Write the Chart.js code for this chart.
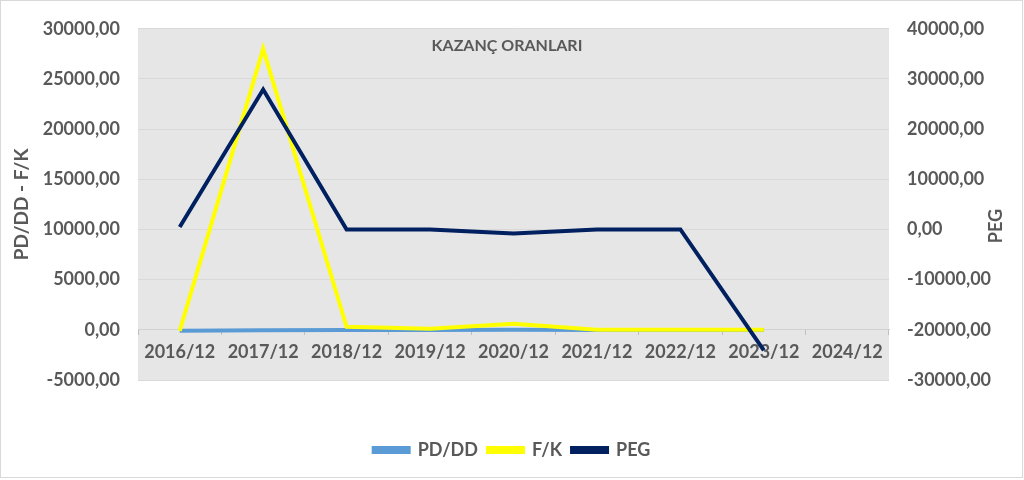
<!DOCTYPE html>
<html>
<head>
<meta charset="utf-8">
<script src="https://cdn.jsdelivr.net/npm/chart.js@4.4.0/dist/chart.umd.min.js"></script>
<style>
  body { margin: 0; background: #fff; }
</style>
</head>
<body>
<canvas id="plot" width="1024" height="480"></canvas>
<script>
// values
var years = ['2016/12', '2017/12', '2018/12', '2019/12', '2020/12', '2021/12', '2022/12', '2023/12', '2024/12'];
var pdDD = [-80, -30, -10, -10, 0, -10, -10, -10, null];
var fk = [-100, 28000, 300, 100, 600, 0, 0, 0, null];
var peg = [500, 27900, 0, 0, -800, 0, 0, -24100, null];

var grey = '#595959';
var tickFont = { family: 'Lato', size: 18, weight: 'bold' };

function fmt(v) {
  return Number(v).toFixed(2).replace('.', ',');
}

var extras = {
  id: 'extras',
  beforeDraw: function (chart) {
    var ctx = chart.ctx, a = chart.chartArea;
    ctx.save();
    ctx.fillStyle = '#ffffff';
    ctx.fillRect(0, 0, chart.width, chart.height);
    ctx.fillStyle = '#e7e6e6';
    ctx.fillRect(a.left, a.top, a.right - a.left, a.bottom - a.top);
    ctx.strokeStyle = '#d9d9d9';
    ctx.lineWidth = 1;
    ctx.strokeRect(0.5, 0.5, chart.width - 2, chart.height - 3);
    ctx.restore();
  },
  afterDraw: function (chart) {
    var ctx = chart.ctx;
    ctx.save();
    ctx.fillStyle = grey;
    ctx.textAlign = 'center';
    ctx.textBaseline = 'middle';
    ctx.font = 'bold 16px Lato';
    ctx.fillText('KAZANÇ ORANLARI', 507, 46);
    // right axis title reads bottom-to-top like the left one
    ctx.translate(996, 226);
    ctx.rotate(-Math.PI / 2);
    ctx.font = 'bold 18px Lato';
    ctx.fillText('PEG', 0, 0);
    ctx.restore();
  }
};

var data = {
  labels: years,
  datasets: [
    { label: 'PD/DD', data: pdDD, borderColor: '#5b9bd5', backgroundColor: '#5b9bd5', yAxisID: 'y', order: 2 },
    { label: 'F/K', data: fk, borderColor: '#ffff00', backgroundColor: '#ffff00', yAxisID: 'y', order: 1 },
    { label: 'PEG', data: peg, borderColor: '#002060', backgroundColor: '#002060', yAxisID: 'y1', order: 0 }
  ]
};

var chart = new Chart(document.getElementById('plot'), {
  type: 'line',
  data: data,
  options: {
    responsive: false,
    animation: false,
    layout: { padding: { top: 27, bottom: 11, left: 0, right: 0 } },
    elements: {
      line: { borderWidth: 4, tension: 0, fill: false },
      point: { radius: 0, hoverRadius: 0 }
    },
    scales: {
      x: {
        position: { y: 0 },
        offset: true,
        grid: { offset: true, drawOnChartArea: false, drawTicks: true, tickLength: 5, color: '#bfbfbf' },
        border: { color: '#d0d0d0' },
        ticks: { color: grey, font: tickFont, padding: 7, maxRotation: 0 }
      },
      y: {
        position: 'left',
        min: -5000,
        max: 30000,
        afterFit: function (s) { s.width = 138; },
        grid: { color: '#d9d9d9', drawTicks: false },
        border: { display: false },
        ticks: { stepSize: 5000, color: grey, font: tickFont, padding: 18, callback: fmt },
        title: { display: true, text: 'PD/DD - F/K', color: grey, font: { family: 'Lato', size: 19, weight: 'bold' }, padding: { top: 10, bottom: 0 } }
      },
      y1: {
        position: 'right',
        min: -30000,
        max: 40000,
        afterFit: function (s) { s.width = 135; },
        grid: { drawOnChartArea: false, drawTicks: false },
        border: { display: false },
        ticks: { stepSize: 10000, color: grey, font: tickFont, padding: 18, callback: fmt }
      }
    },
    plugins: {
      legend: {
        position: 'bottom',
        title: { display: true, text: '', font: { size: 10, lineHeight: 1 }, padding: { top: 41, bottom: 0 } },
        labels: {
          color: grey, font: tickFont, boxWidth: 35, boxHeight: 4, padding: 10,
          sort: function (a, b) { return a.datasetIndex - b.datasetIndex; }
        }
      },
      tooltip: { enabled: false }
    }
  },
  plugins: [extras]
});
</script>
</body>
</html>
